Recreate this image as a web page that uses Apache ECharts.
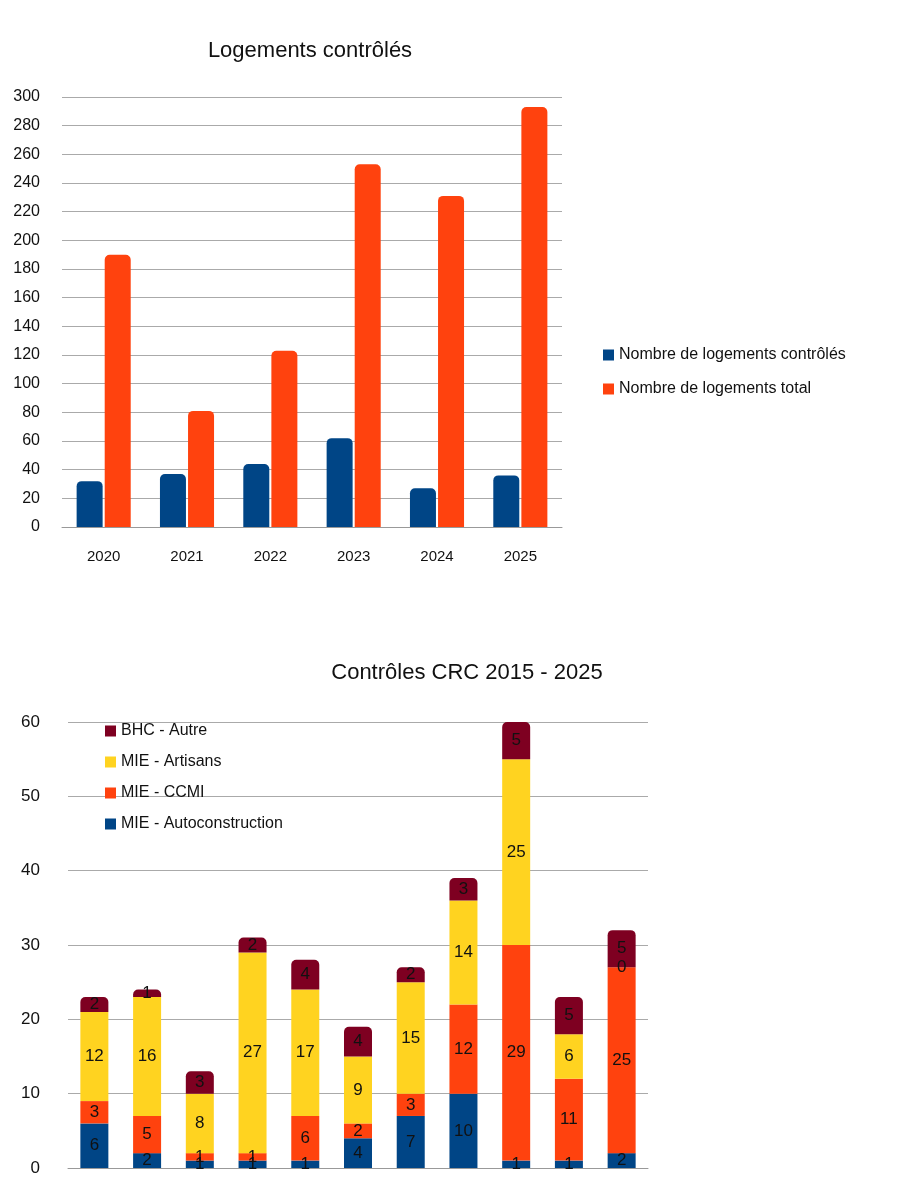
<!DOCTYPE html>
<html><head><meta charset="utf-8">
<script src="https://cdn.jsdelivr.net/npm/echarts@6/dist/echarts.min.js"></script>
<style>html,body{margin:0;padding:0;background:#fff}#c{width:900px;height:1190px}</style>
</head><body><div id="c"></div>
<script>
const years1 = ['2020','2021','2022','2023','2024','2025'];
const controles = [32,37,44,62,27,36];
const total = [190,81,123,253,231,293];

const cats2 = ['2015','2016','2017','2018','2019','2020','2021','2022','2023','2024','2025'];
const autoconstruction = [6,2,1,1,1,4,7,10,1,1,2];
const ccmi = [3,5,1,1,6,2,3,12,29,11,25];
const artisans = [12,16,8,27,17,9,15,14,25,6,0];
const bhc = [2,1,3,2,4,4,2,3,5,5,5];

const font = 'Liberation Sans';
const chart = echarts.init(document.getElementById('c'));
const lbl = {show:true, position:'inside', color:'#111', fontSize:17, fontFamily:font};
chart.setOption({
  textStyle:{fontFamily:font},
  title:[
    {text:'Logements contrôlés', left:305, top:35, textAlign:'center', textStyle:{fontSize:22, fontWeight:'normal', color:'#111', fontFamily:font}},
    {text:'Contrôles CRC 2015 - 2025', left:462, top:657, textAlign:'center', textStyle:{fontSize:22, fontWeight:'normal', color:'#111', fontFamily:font}}
  ],
  legend:[
    {gridIndex:0, orient:'vertical', left:598, top:342, itemGap:18, itemWidth:11, itemHeight:11, icon:'rect',
     textStyle:{fontSize:16, color:'#111', fontFamily:font}, data:['Nombre de logements contrôlés','Nombre de logements total']},
    {orient:'vertical', left:100, top:718, itemGap:15, itemWidth:11, itemHeight:11, icon:'rect',
     textStyle:{fontSize:16, color:'#111', fontFamily:font}, data:['BHC - Autre','MIE - Artisans','MIE - CCMI','MIE - Autoconstruction']}
  ],
  grid:[
    {left:62, top:97, width:500, height:430},
    {left:68, top:722, width:580, height:446}
  ],
  xAxis:[
    {gridIndex:0, type:'category', data:years1, axisTick:{show:false}, axisLine:{lineStyle:{color:'#999'}},
     axisLabel:{color:'#111', fontSize:15, margin:22}},
    {gridIndex:1, type:'category', data:cats2, axisTick:{show:false}, axisLine:{lineStyle:{color:'#999'}},
     axisLabel:{show:false}}
  ],
  yAxis:[
    {gridIndex:0, min:0, max:300, interval:20, axisLine:{show:false}, axisTick:{show:false},
     axisLabel:{color:'#111', fontSize:16, margin:22}, splitLine:{lineStyle:{color:'#aaa'}}},
    {gridIndex:1, min:0, max:60, interval:10, axisLine:{show:false}, axisTick:{show:false},
     axisLabel:{color:'#111', fontSize:17, margin:28}, splitLine:{lineStyle:{color:'#aaa'}}}
  ],
  series:[
    {name:'Nombre de logements contrôlés', type:'bar', xAxisIndex:0, yAxisIndex:0, data:controles, barWidth:26, barGap:'8%',
     itemStyle:{color:'#004586', borderRadius:[5,5,0,0]}},
    {name:'Nombre de logements total', type:'bar', xAxisIndex:0, yAxisIndex:0, data:total, barWidth:26,
     itemStyle:{color:'#ff420e', borderRadius:[5,5,0,0]}},
    {name:'MIE - Autoconstruction', type:'bar', stack:'s', xAxisIndex:1, yAxisIndex:1, data:autoconstruction, barWidth:28, itemStyle:{color:'#004586'}, label:lbl},
    {name:'MIE - CCMI', type:'bar', stack:'s', xAxisIndex:1, yAxisIndex:1, data:ccmi, barWidth:28, itemStyle:{color:'#ff420e'}, label:lbl},
    {name:'MIE - Artisans', type:'bar', stack:'s', xAxisIndex:1, yAxisIndex:1, data:artisans, barWidth:28, itemStyle:{color:'#ffd320'}, label:lbl},
    {name:'BHC - Autre', type:'bar', stack:'s', xAxisIndex:1, yAxisIndex:1, data:bhc, barWidth:28, itemStyle:{color:'#7e0021', borderRadius:[5,5,0,0]}, label:lbl}
  ]
});
</script></body></html>
